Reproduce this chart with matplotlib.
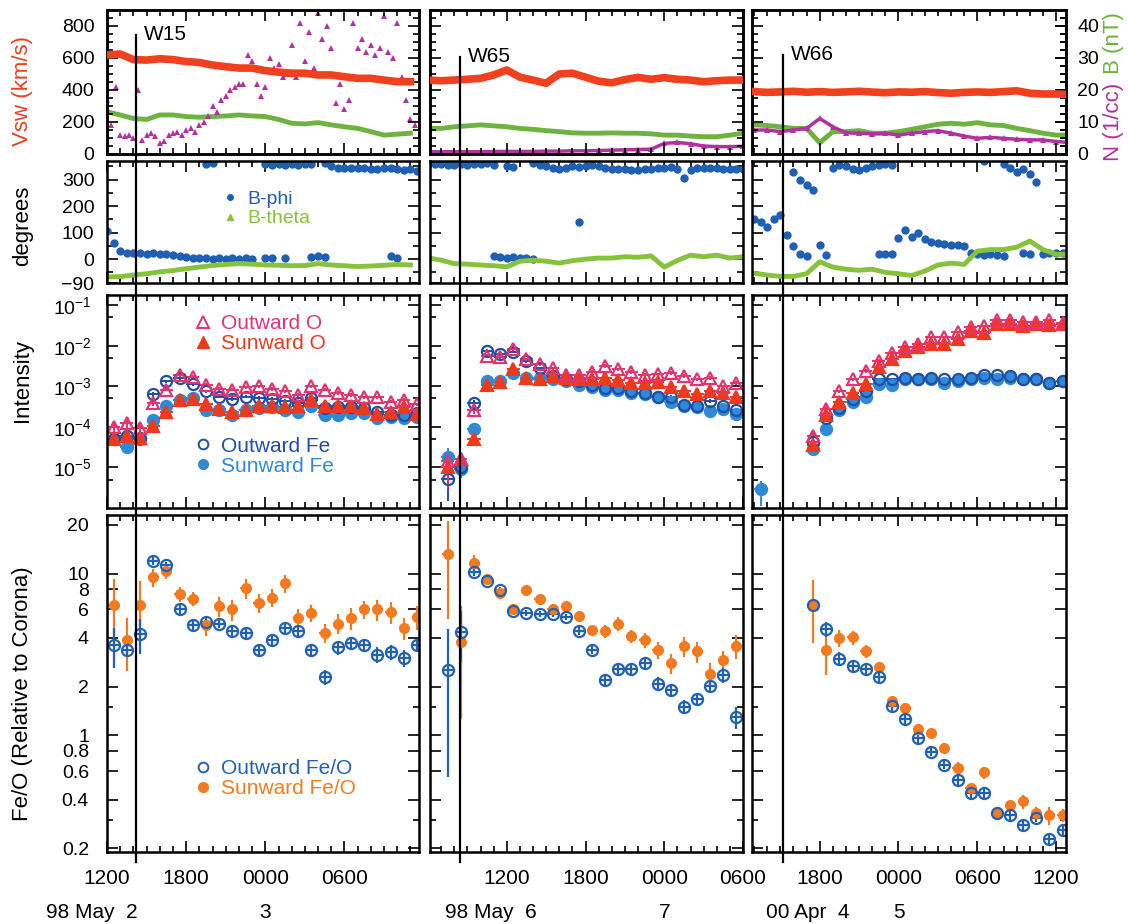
import numpy as np
import matplotlib
matplotlib.use("Agg")
import matplotlib.pyplot as plt
from matplotlib.lines import Line2D
from matplotlib import transforms
from matplotlib.ticker import FixedLocator, MultipleLocator, FuncFormatter, NullFormatter

plt.rcParams['font.family'] = ['Liberation Sans', 'DejaVu Sans']
plt.rcParams['mathtext.fontset'] = 'custom'
plt.rcParams['mathtext.rm'] = 'Liberation Sans'
plt.rcParams['mathtext.it'] = 'Liberation Sans:italic'
plt.rcParams['mathtext.bf'] = 'Liberation Sans:bold'

nan = np.nan

# ---------------- events (hours counted from 00:00 of the first day shown)
events = ["W15", "W65", "W66"]
event_hour = [14.2, 8.43, 15.2]
day_labels = [("98 May  2", "3"), ("98 May  6", "7"), ("00 Apr  4", "5")]
xranges = [(12.0, 35.65), (6.15, 30.0), (12.84, 36.76)]
first_tick = [12, 12, 18]

# ---------------- row 1: solar wind speed, |B|, density (hourly)
t_sw1 = np.arange(12, 36)
vsw1 = [619, 625, 590, 587, 595, 590, 578, 572, 556, 546, 537, 537,
        521, 512, 505, 505, 494, 494, 483, 473, 473, 462, 452, 452]
bmag1 = [13.2, 12.2, 11.1, 10.8, 12.2, 12.2, 11.7, 11.5, 11.7, 11.9, 12.2, 11.9,
         11.7, 10.8, 9.6, 9.4, 9.8, 9.1, 8.5, 8.0, 7.0, 5.9, 6.2, 6.5]
theta1 = [-67, -66, -60, -55, -48, -43, -36, -30, -24, -20, -17, -19,
          -22, -23, -25, -24, -17, -22, -25, -28, -26, -23, -20, -22]
t_n1 = 12 + np.arange(71) / 3
dens1 = [17, 9, 21, 6, 5.5, 6, 5, 20, 4.5, 6, 6.5, 5.5, 3.5, 4, 6, 6.5, 7, 6,
         7.5, 8, 7, 9, 10, 12, 15, 13, 17, 18, 20, 21, 22, 22, 31, 29, 22, 18,
         21, 30, 27, 28, 24, 25, 34, 24, 41, 29, 38, 27, 44, 36, 40, 33, 16, 22,
         14, 17, 41, 33, 36, 32, 34, 31, 33, 43, 32, 30, 41, 24, 17, 11, 9]

t_sw2 = np.arange(6, 31)
vsw2 = [462, 458, 462, 467, 473, 494, 525, 480, 462, 442, 500, 505, 480,
        455, 445, 465, 479, 467, 477, 467, 462, 452, 458, 462, 462]
bmag2 = [8.0, 8.0, 8.5, 8.8, 9.1, 8.8, 8.5, 8.0, 7.7, 7.3, 7.0, 6.6, 6.5,
         6.5, 6.6, 6.5, 6.5, 6.3, 5.9, 5.9, 5.6, 5.4, 5.4, 5.9, 6.5]
dens2 = [0.7, 0.7, 0.7, 0.7, 0.7, 0.8, 0.8, 0.8, 0.8, 0.9, 0.9, 1.0, 1.0,
         1.1, 1.2, 1.3, 1.4, 1.5, 3.3, 3.6, 3.2, 2.5, 2.3, 2.3, 2.4]
theta2 = [5, -4, -17, -19, -22, -25, -29, -8, -4, -8, -15, -6, 0,
          4, 4, 9, 7, 12, -30, -5, 15, 9, 15, 4, 9]

t_sw3 = np.arange(13, 38)
vsw3 = [390, 385, 388, 392, 386, 390, 385, 388, 392, 387, 383, 388, 386,
        390, 384, 380, 385, 388, 385, 390, 395, 380, 375, 375, 372]
bmag3 = [9.1, 8.9, 8.5, 8.0, 8.0, 3.5, 7.0, 7.0, 7.3, 6.5, 6.5, 7.0, 7.7,
         8.5, 9.3, 9.6, 9.3, 9.8, 9.1, 8.9, 8.0, 7.3, 6.5, 5.9, 5.9]
dens3 = [7.5, 7.5, 7.0, 7.5, 8.0, 11.1, 8.5, 6.6, 6.5, 6.3, 6.5, 5.9, 6.5,
         7.0, 7.3, 6.5, 5.6, 4.9, 5.2, 4.9, 4.6, 4.4, 4.4, 3.9, 3.6]
theta3 = [-53, -60, -65, -65, -55, -10, -30, -38, -42, -38, -50, -55, -62,
          -45, -22, -15, -20, 30, 36, 36, 45, 68, 36, 18, 18]

# ---------------- row 2: B-phi, half-hour samples (two branches near 0 and 360)
t_phi1 = 12 + 0.5 * np.arange(48)
phi_lo1 = [106, 60, 30, 23, 22, 22, 20, 22, 20, 18, 15, 12, 8, 5, 3, 3, 2, 3,
           2, 3, 2, 3, 2, nan, 3, 3, nan, 3, nan, nan, nan, 8, 12, 8,
           nan, nan, nan, nan, nan, nan, nan, nan, nan, 10, 5, nan, nan, nan]
phi_hi1 = [nan] * 15 + [360, 362] + [nan] * 7 + \
          [358, 356, 358, 355, 358, 356, 357, 360, nan, 362,
           352, 345, 345, 343, 345, 342, 340, 338, 342, 345, 340, 335, 338, 332]

t_phi2 = 6 + 0.5 * np.arange(49)
phi_hi2 = [358, 358, 357, 356, 356, 357, 356, 358, 360, 362, 355, nan, 352, 348,
           nan, nan, 362, 355, 350, 345, 340, 345, 350, 348, 352, 355, 350, 343,
           338, 340, 338, 335, 335, 340, 338, 342, 345, 348, 340, 305, 335, 345,
           345, 343, 345, 340, 338, 340, 338]
phi_lo2 = [nan] * 10 + [12, 8, 5, 7, 3, 5, 2] + [nan] * 6 + [141] + [nan] * 25

t_phi3 = 13 + 0.5 * np.arange(49)
phi_lo3 = [150, 140, 120, 150, 165, 90, 50, 20, 10, nan, 55, 15] + [nan] * 7 + \
          [20, 18, 20, 80, 110, 85, 100, 75, 65, 60, 58, 55, 55, 50, 25, 18, 15,
           20, 15, 12, nan, nan, 25, 20, nan, 20, 25, 22, 25, 25]
phi_hi3 = [nan] * 6 + [330, 300, 280, 260, nan, nan, 345, 355, 350, 340, 335,
           345, 350, 355, 360, 355] + [nan] * 13 + [370, nan, nan, 360, 345,
           330, 340, 320, 290] + [nan] * 5

# ---------------- row 3: intensities (hourly bins)
bins1 = np.arange(12.5, 36.0)
o_out1 = [1.0e-4, 1.21e-4, 9.6e-5, 3.8e-4, 8.3e-4, 1.85e-3, 1.68e-3, 1.1e-3,
          8.7e-4, 8.3e-4, 9.4e-4, 1.0e-3, 8.7e-4, 7.5e-4, 6.2e-4, 1.0e-3,
          8.3e-4, 6.8e-4, 6.2e-4, 5.3e-4, 5.3e-4, 4.2e-4, 4.6e-4, 3.6e-4]
o_sun1 = [5.1e-5, 6.0e-5, 5.3e-5, 1.06e-4, 2.28e-4, 4.5e-4, 4.9e-4, 3.6e-4,
          2.77e-4, 2.37e-4, 2.61e-4, 3.2e-4, 3.2e-4, 3.0e-4, 3.35e-4, 4.6e-4,
          3.35e-4, 3.2e-4, 3.2e-4, 2.87e-4, 2.03e-4, 2.37e-4, 3.0e-4, 2.03e-4]
fe_out1 = [5.1e-5, 6.0e-5, 5.3e-5, 6.4e-4, 1.33e-3, 1.62e-3, 1.14e-3, 7.5e-4,
           5.6e-4, 4.9e-4, 5.6e-4, 5.1e-4, 4.9e-4, 4.4e-4, 3.8e-4, 5.1e-4,
           2.87e-4, 3.0e-4, 3.0e-4, 2.87e-4, 2.37e-4, 1.96e-4, 1.96e-4, 2.15e-4]
fe_sun1 = [4.9e-5, 3.2e-5, 4.9e-5, 1.47e-4, 3.2e-4, 4.6e-4, 5.1e-4, 2.61e-4,
           2.61e-4, 1.96e-4, 2.61e-4, 2.87e-4, 3.0e-4, 2.61e-4, 2.37e-4, 3.2e-4,
           1.96e-4, 1.96e-4, 2.15e-4, 2.15e-4, 1.62e-4, 1.78e-4, 1.68e-4, 1.78e-4]
int_err1 = [0.25, 0.25, 0.25, 0.15, 0.1, 0.1, 0.1, 0.1, 0.1, 0.1, 0.1, 0.1,
            0.1, 0.1, 0.1, 0.1, 0.1, 0.1, 0.1, 0.1, 0.1, 0.1, 0.1, 0.1]

bins2 = np.arange(7.5, 30.0)
o_out2 = [1.47e-5, 1.62e-5, 2.61e-4, 5.6e-3, 5.3e-3, 8.3e-3, 4.6e-3, 3.6e-3,
          2.77e-3, 1.88e-3, 1.88e-3, 2.28e-3, 3.2e-3, 2.61e-3, 2.28e-3, 1.88e-3,
          1.96e-3, 2.15e-3, 1.78e-3, 1.47e-3, 1.62e-3, 1.0e-3, 1.21e-3]
o_sun2 = [1.0e-5, 1.62e-5, 5.1e-5, 1.06e-3, 1.28e-3, 2.61e-3, 1.62e-3, 1.53e-3,
          1.78e-3, 1.62e-3, 1.55e-3, 1.55e-3, 1.62e-3, 1.39e-3, 1.21e-3, 1.21e-3,
          1.28e-3, 9.4e-4, 7.8e-4, 6.4e-4, 7.5e-4, 6.8e-4, 5.3e-4]
fe_out2 = [5.1e-6, 1.0e-5, 3.8e-4, 7.5e-3, 6.2e-3, 7.2e-3, 4.2e-3, 2.77e-3,
           1.78e-3, 1.47e-3, 1.33e-3, 1.1e-3, 9.1e-4, 9.1e-4, 7.8e-4, 6.8e-4,
           5.3e-4, 5.6e-4, 3.5e-4, 3.2e-4, 4.4e-4, 3.2e-4, 2.61e-4]
fe_sun2 = [1.78e-5, 9.1e-6, 8.7e-5, 1.33e-3, 1.33e-3, 2.15e-3, 1.62e-3, 1.62e-3,
           1.55e-3, 1.33e-3, 1.06e-3, 9.4e-4, 8.3e-4, 8.3e-4, 6.8e-4, 6.4e-4,
           5.3e-4, 4.1e-4, 3.35e-4, 3.0e-4, 2.47e-4, 2.77e-4, 2.03e-4]
int_err2 = [0.7, 0.4, 0.2, 0.1, 0.1, 0.1, 0.1, 0.1, 0.1, 0.1, 0.1, 0.1,
            0.1, 0.1, 0.1, 0.1, 0.1, 0.1, 0.1, 0.1, 0.1, 0.1, 0.1]

bins3 = np.arange(13.5, 37.0)
o_out3 = [nan, nan, nan, nan, 6.0e-5, 2.71e-4, 7.5e-4, 1.47e-3, 2.37e-3, 4.2e-3,
          6.8e-3, 9.1e-3, 1.1e-2, 1.62e-2, 1.62e-2, 2.15e-2, 2.87e-2, 3.0e-2,
          4.2e-2, 4.4e-2, 3.83e-2, 3.83e-2, 4.2e-2, 3.6e-2]
o_sun3 = [nan, nan, nan, nan, 3.48e-5, 1.96e-4, 4.2e-4, 6.8e-4, 1.14e-3, 3.0e-3,
          4.6e-3, 7.5e-3, 9.4e-3, 1.1e-2, 1.1e-2, 1.47e-2, 2.28e-2, 2.03e-2,
          3.35e-2, 3.48e-2, 3.0e-2, 3.48e-2, 3.29e-2, 3.35e-2]
fe_out3 = [nan, nan, nan, nan, 4.2e-5, 1.62e-4, 2.87e-4, 4.9e-4, 7.5e-4, 1.47e-3,
           1.47e-3, 1.62e-3, 1.53e-3, 1.62e-3, 1.47e-3, 1.55e-3, 1.62e-3, 1.85e-3,
           1.88e-3, 1.78e-3, 1.55e-3, 1.55e-3, 1.21e-3, 1.33e-3]
fe_sun3 = [2.87e-6, nan, nan, nan, 2.87e-5, 9.1e-5, 2.61e-4, 4.2e-4, 5.6e-4, 1.14e-3,
           1.06e-3, 1.55e-3, 1.47e-3, 1.55e-3, 1.21e-3, 1.33e-3, 1.47e-3, 1.62e-3,
           1.47e-3, 1.62e-3, 1.47e-3, 1.47e-3, 1.21e-3, 1.33e-3]
int_err3 = [0.6, nan, nan, nan, 0.3, 0.2, 0.1, 0.1, 0.1, 0.1, 0.1, 0.1,
            0.1, 0.1, 0.1, 0.1, 0.1, 0.1, 0.1, 0.1, 0.1, 0.1, 0.1, 0.1]

# ---------------- row 4: Fe/O relative to corona
feo_out1 = [3.6, 3.35, 4.2, 12.0, 11.3, 6.0, 4.8, 5.0, 4.9, 4.4, 4.3, 3.35,
            3.9, 4.6, 4.4, 3.35, 2.3, 3.5, 3.7, 3.6, 3.15, 3.26, 3.0, 3.6]
feo_sun1 = [6.4, 3.9, 6.4, 9.5, 10.3, 7.5, 7.0, 4.8, 6.3, 6.0, 8.1, 6.6,
            7.1, 8.7, 5.3, 5.7, 4.3, 4.9, 5.3, 6.0, 6.0, 5.8, 4.6, 5.4]
feo_out1_err = [1.0, 0.3, 1.0, 0.7, 0.5, 0.4, 0.3, 0.3, 0.3, 0.3, 0.3, 0.3,
                0.3, 0.3, 0.3, 0.3, 0.25, 0.35, 0.3, 0.35, 0.35, 0.35, 0.35, 0.3]
feo_sun1_err = [2.8, 1.4, 2.6, 1.2, 1.0, 0.8, 0.7, 0.7, 0.9, 0.9, 1.1, 0.9,
                0.9, 1.1, 0.7, 0.7, 0.6, 0.7, 0.8, 0.8, 0.9, 0.9, 0.7, 0.9]

feo_out2 = [2.55, 4.33, 10.2, 9.0, 7.9, 5.9, 5.7, 5.6, 5.6, 5.4, 4.4, 3.38,
            2.19, 2.57, 2.58, 2.8, 2.09, 1.90, 1.50, 1.68, 2.03, 2.37, 1.30]
feo_sun2 = [13.2, 3.76, 11.6, 9.3, 7.6, 6.0, 7.9, 7.0, 6.0, 6.3, 5.5, 4.46,
            4.4, 4.9, 4.1, 3.86, 3.35, 2.78, 3.55, 3.3, 2.4, 2.94, 3.55]
feo_out2_err = [2.0, 1.5, 0.5, 0.3, 0.3, 0.25, 0.25, 0.25, 0.25, 0.25, 0.25, 0.2,
                0.15, 0.2, 0.2, 0.2, 0.2, 0.15, 0.15, 0.15, 0.2, 0.25, 0.2]
feo_sun2_err = [8.0, 2.5, 1.5, 0.6, 0.5, 0.4, 0.5, 0.5, 0.4, 0.5, 0.4, 0.3,
                0.4, 0.5, 0.4, 0.4, 0.4, 0.4, 0.5, 0.5, 0.4, 0.4, 0.6]

feo_out3 = [nan, nan, nan, nan, 6.4, 4.54, 2.97, 2.70, 2.57, 2.3, 1.51, 1.26,
            0.96, 0.79, 0.66, 0.53, 0.44, 0.44, 0.33, 0.32, 0.28, 0.31, 0.23, 0.26]
feo_sun3 = [nan, nan, nan, nan, 6.4, 3.35, 4.0, 4.03, 3.3, 2.64, 1.62, 1.48,
            1.09, 1.03, 0.84, 0.63, 0.47, 0.59, 0.33, 0.37, 0.39, 0.33, 0.32, 0.32]
feo_out3_err = [nan, nan, nan, nan, 0.3, 0.5, 0.3, 0.2, 0.2, 0.15, 0.1, 0.08,
                0.06, 0.05, 0.04, 0.04, 0.03, 0.03, 0.03, 0.02, 0.02, 0.02, 0.02, 0.02]
feo_sun3_err = [nan, nan, nan, nan, 2.7, 1.0, 0.5, 0.4, 0.3, 0.2, 0.12, 0.1,
                0.08, 0.06, 0.06, 0.05, 0.04, 0.05, 0.03, 0.03, 0.04, 0.03, 0.04, 0.03]

# ---------------- colours
c_vsw = '#f0401e'
c_b = '#6db33f'
c_n = '#b2309f'
c_phi = '#1f5fb4'
c_theta = '#86c23c'
c_oout = '#e6336f'
c_osun = '#ee3a1c'
c_feout = '#1f4fa8'
c_fesun = '#2e8ad6'
c_ratio_out = '#2262b5'
c_ratio_sun = '#f47a20'

# group per column
T_SW = [t_sw1, t_sw2, t_sw3]
VSW = [vsw1, vsw2, vsw3]
BMAG = [bmag1, bmag2, bmag3]
THETA = [theta1, theta2, theta3]
T_N = [t_n1, t_sw2, t_sw3]
DENS = [dens1, dens2, dens3]
T_PHI = [t_phi1, t_phi2, t_phi3]
PHI_LO = [phi_lo1, phi_lo2, phi_lo3]
PHI_HI = [phi_hi1, phi_hi2, phi_hi3]
BINS = [bins1, bins2, bins3]
O_OUT = [o_out1, o_out2, o_out3]
O_SUN = [o_sun1, o_sun2, o_sun3]
FE_OUT = [fe_out1, fe_out2, fe_out3]
FE_SUN = [fe_sun1, fe_sun2, fe_sun3]
INT_ERR = [int_err1, int_err2, int_err3]
FEO_OUT = [feo_out1, feo_out2, feo_out3]
FEO_SUN = [feo_sun1, feo_sun2, feo_sun3]
FEO_OUT_ERR = [feo_out1_err, feo_out2_err, feo_out3_err]
FEO_SUN_ERR = [feo_sun1_err, feo_sun2_err, feo_sun3_err]

# ---------------- layout (pixels)
W, H = 1128, 924
fig = plt.figure(figsize=(W / 100, H / 100), dpi=100)
col_px = [(107, 419), (430, 743), (752, 1066)]
row_px = [(10, 154), (161, 283), (295, 508), (515, 852)]
ypads = [9, 9, 11, 13]


def add_box(c, r):
    l, rr = col_px[c]
    t, b = row_px[r]
    return fig.add_axes([l / W, 1 - b / H, (rr - l) / W, (b - t) / H])


def style(ax, c, r):
    ax.set_xlim(*xranges[c])
    ax.xaxis.set_major_locator(MultipleLocator(6))
    ax.xaxis.set_minor_locator(MultipleLocator(1))
    ax.xaxis.set_major_formatter(FuncFormatter(lambda v, p: "%02d00" % (int(round(v)) % 24)))
    ax.tick_params(which='both', direction='in', top=True, right=True, width=1.2,
                   labelsize=14)
    ax.tick_params(which='major', length=8)
    ax.tick_params(which='minor', length=4)
    ax.tick_params(axis='x', labelbottom=(r == 3), labelsize=15, pad=12)
    ax.tick_params(axis='y', labelleft=(c == 0), pad=ypads[r])
    for s in ax.spines.values():
        s.set_linewidth(1.8)


bottom_axes = []
for c in range(3):
    # ---- row 1
    ax = add_box(c, 0)
    ax2 = ax.twinx()
    ax.set_zorder(ax2.get_zorder() + 1)
    ax.patch.set_visible(False)
    ax2.plot(T_SW[c], BMAG[c], color=c_b, lw=3.5, zorder=2)
    ax2.plot(T_N[c], DENS[c], color=c_n, ls='-' if c > 0 else 'none', lw=2.5,
             marker='^', ms=5, mew=0, zorder=3)
    ax.plot(T_SW[c], VSW[c], color=c_vsw, lw=5.5, zorder=3)
    style(ax, c, 0)
    ax.set_ylim(0, 900)
    ax.yaxis.set_major_locator(FixedLocator([0, 200, 400, 600, 800]))
    ax.yaxis.set_minor_locator(MultipleLocator(50))
    ax2.set_ylim(0, 45)
    ax2.set_xlim(*xranges[c])
    ax2.yaxis.set_major_locator(FixedLocator([0, 10, 20, 30, 40]))
    ax2.yaxis.set_minor_locator(MultipleLocator(2.5))
    if c == 2:
        ax2.tick_params(axis='y', which='both', direction='in', labelsize=14, pad=8, width=1.2)
        ax2.tick_params(axis='y', which='major', length=8)
        ax2.tick_params(axis='y', which='minor', length=4)
    else:
        ax2.tick_params(axis='y', which='both', right=False, labelright=False)
    for s in ax2.spines.values():
        s.set_linewidth(1.8)
    if c == 0:
        ax.set_ylabel("Vsw (km/s)", color=c_vsw, fontsize=16, va='center')
        ax.yaxis.set_label_coords(-0.272, 0.44)

    # ---- row 2
    ax = add_box(c, 1)
    ax.plot(T_PHI[c], PHI_LO[c], ls='none', marker='o', ms=6, color=c_phi, mew=0)
    ax.plot(T_PHI[c], PHI_HI[c], ls='none', marker='o', ms=6, color=c_phi, mew=0)
    ax.plot(T_SW[c], THETA[c], color=c_theta, lw=3.5)
    style(ax, c, 1)
    ax.set_ylim(-90, 370)
    ax.yaxis.set_major_locator(FixedLocator([-90, 0, 100, 200, 300]))
    ax.yaxis.set_minor_locator(FixedLocator([-50, 50, 150, 250, 350]))
    if c == 0:
        ax.set_ylabel("degrees", fontsize=16, va='center')
        ax.yaxis.set_label_coords(-0.272, 0.47)
        hd = [Line2D([], [], ls='none', marker='o', ms=4, color=c_phi),
              Line2D([], [], ls='none', marker='^', ms=4, color=c_theta)]
        ax.legend(hd, ["B-phi", "B-theta"], loc='upper left', bbox_to_anchor=(0.37, 0.76),
                  frameon=False, fontsize=14, handlelength=0.8, handletextpad=0.5,
                  labelspacing=0.1, borderpad=0, borderaxespad=0,
                  labelcolor=[c_phi, c_theta])

    # ---- row 3
    ax = add_box(c, 2)
    ax.set_yscale('log')
    err = np.array(INT_ERR[c])
    for vals, col, filled, mk in [(FE_SUN[c], c_fesun, True, 'o'),
                                  (FE_OUT[c], c_feout, False, 'o'),
                                  (O_SUN[c], c_osun, True, '^'),
                                  (O_OUT[c], c_oout, False, '^')]:
        v = np.array(vals)
        ax.errorbar(BINS[c], v, yerr=v * err, xerr=0.5, fmt=mk, ms=8, mew=1.6,
                    color=col, mfc=col if filled else 'none', mec=col,
                    elinewidth=1.4, capsize=0)
    style(ax, c, 2)
    ax.set_ylim(1e-6, 10 ** -0.75)
    ax.yaxis.set_major_locator(FixedLocator([1e-5, 1e-4, 1e-3, 1e-2, 1e-1]))
    ax.yaxis.set_minor_locator(FixedLocator([5e-6, 5e-5, 5e-4, 5e-3, 5e-2]))
    ax.yaxis.set_major_formatter(FuncFormatter(lambda v, p: r"$10^{%d}$" % round(np.log10(v))))
    ax.yaxis.set_minor_formatter(NullFormatter())
    if c == 0:
        ax.set_ylabel("Intensity", fontsize=16, va='center')
        ax.yaxis.set_label_coords(-0.272, 0.6)
        h_o = [Line2D([], [], ls='none', marker='^', ms=8, mfc='none', mec=c_oout, mew=1.4),
               Line2D([], [], ls='none', marker='^', ms=8, color=c_osun)]
        leg = ax.legend(h_o, ["Outward O", "Sunward O"], loc='upper left',
                        bbox_to_anchor=(0.28, 0.91), frameon=False, fontsize=15,
                        handlelength=0.8, handletextpad=0.5, labelspacing=0.05,
                        borderpad=0, borderaxespad=0, labelcolor=[c_oout, c_osun])
        ax.add_artist(leg)
        h_f = [Line2D([], [], ls='none', marker='o', ms=7, mfc='none', mec=c_feout, mew=1.4),
               Line2D([], [], ls='none', marker='o', ms=7, color=c_fesun)]
        ax.legend(h_f, ["Outward Fe", "Sunward Fe"], loc='upper left',
                  bbox_to_anchor=(0.28, 0.335), frameon=False, fontsize=15,
                  handlelength=0.8, handletextpad=0.5, labelspacing=0.05,
                  borderpad=0, borderaxespad=0, labelcolor=[c_feout, c_fesun])

    # ---- row 4
    ax = add_box(c, 3)
    ax.set_yscale('log')
    ax.errorbar(BINS[c], FEO_SUN[c], yerr=FEO_SUN_ERR[c], xerr=0.4, fmt='o', ms=8,
                color=c_ratio_sun, mew=0, elinewidth=1.6, capsize=0)
    ax.errorbar(BINS[c], FEO_OUT[c], yerr=FEO_OUT_ERR[c], xerr=0.4, fmt='o', ms=8,
                color=c_ratio_out, mfc='none', mec=c_ratio_out, mew=1.6,
                elinewidth=1.6, capsize=0)
    style(ax, c, 3)
    ax.set_ylim(0.19, 23)
    ax.yaxis.set_major_locator(FixedLocator([0.2, 0.4, 0.6, 0.8, 1, 2, 4, 6, 8, 10, 20]))
    ax.yaxis.set_minor_locator(FixedLocator([0.3, 1.5]))
    ax.yaxis.set_major_formatter(FuncFormatter(lambda v, p: "%g" % v))
    ax.yaxis.set_minor_formatter(NullFormatter())
    if c == 0:
        ax.set_ylabel("Fe/O (Relative to Corona)", fontsize=16, va='center')
        ax.yaxis.set_label_coords(-0.272, 0.47)
        h_r = [Line2D([], [], ls='none', marker='o', ms=7, mfc='none', mec=c_ratio_out, mew=1.4),
               Line2D([], [], ls='none', marker='o', ms=7, color=c_ratio_sun)]
        ax.legend(h_r, ["Outward Fe/O", "Sunward Fe/O"], loc='upper left',
                  bbox_to_anchor=(0.28, 0.275), frameon=False, fontsize=15,
                  handlelength=0.8, handletextpad=0.5, labelspacing=0.05,
                  borderpad=0, borderaxespad=0, labelcolor=[c_ratio_out, c_ratio_sun])
    bottom_axes.append(ax)

# right-hand labels of the top row
fig.text(1113 / W, 1 - 122 / H, "N (1/cc)", rotation=90, color=c_n, fontsize=16,
         ha='center', va='center')
fig.text(1113 / W, 1 - 43 / H, "B (nT)", rotation=90, color=c_b, fontsize=16,
         ha='center', va='center')

# event lines, names and date labels
line_top = [35, 57, 55]
for c, ax in enumerate(bottom_axes):
    tr = transforms.blended_transform_factory(ax.transData, fig.transFigure)
    fig.add_artist(Line2D([event_hour[c], event_hour[c]], [1 - line_top[c] / H, 1 - 862 / H],
                          transform=tr, color='black', lw=1.6, zorder=10))
    tr_off = transforms.offset_copy(tr, fig=fig, x=8, y=0, units='dots')
    fig.text(event_hour[c], 1 - line_top[c] / H, events[c], transform=tr_off,
             ha='left', va='center', fontsize=15, zorder=11)
    fig.text(first_tick[c] + 2.3, 1 - 912 / H, day_labels[c][0], transform=tr,
             ha='right', va='center', fontsize=15)
    fig.text(24, 1 - 912 / H, day_labels[c][1], transform=tr,
             ha='center', va='center', fontsize=15)

fig.savefig("out.png", dpi=100)
